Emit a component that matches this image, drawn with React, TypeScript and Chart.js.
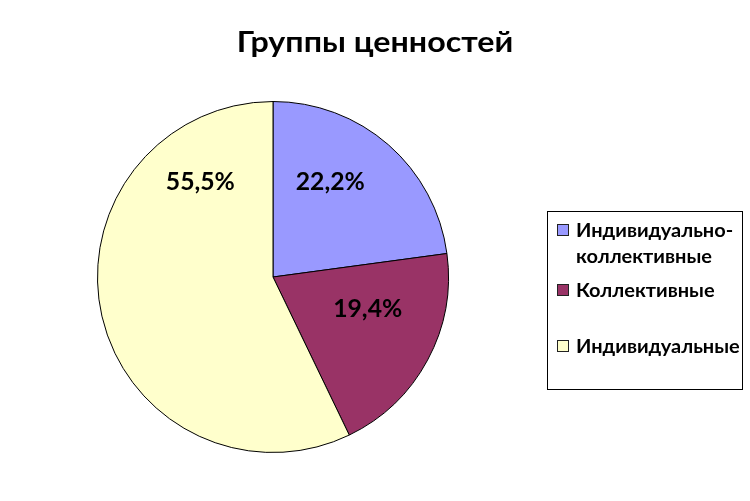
import React, { useEffect, useRef } from "react";
import { Chart, registerables } from "chart.js";

Chart.register(...registerables);

const title = "Группы ценностей";
const categories = ["Индивидуально-коллективные", "Коллективные", "Индивидуальные"];
const legendLines = [["Индивидуально-", "коллективные"], ["Коллективные"], ["Индивидуальные"]];
const values = [22.2, 19.4, 55.5];
const valueLabels = ["22,2%", "19,4%", "55,5%"];
const colors = ["#9999FF", "#993366", "#FFFFCC"];
// label placement: angle (deg clockwise from top) and fraction of radius
const labelAngles = [31.2, 108.8, 322.5];
const labelRadii = [0.63, 0.57, 0.68];

const FONT = "Lato, 'DejaVu Sans', sans-serif";

function drawText(ctx: CanvasRenderingContext2D, t: string, x: number, y: number, sx: number) {
  ctx.save();
  ctx.translate(x, y);
  ctx.scale(sx, 1);
  ctx.fillText(t, 0, 0);
  ctx.restore();
}

const overlay = {
  id: "overlay",
  afterDraw(chart: any) {
    const ctx = chart.ctx as CanvasRenderingContext2D;
    const meta = chart.getDatasetMeta(0);
    const arc0 = meta.data[0];
    const cx = arc0.x, cy = arc0.y, r = arc0.outerRadius;
    ctx.save();
    // title
    ctx.fillStyle = "#000";
    ctx.font = `bold 29px ${FONT}`;
    ctx.textAlign = "center";
    ctx.textBaseline = "middle";
    drawText(ctx, title, 375, 43, 1.11);
    // value labels
    ctx.font = `bold 24px ${FONT}`;
    valueLabels.forEach((t, i) => {
      const a = (labelAngles[i] * Math.PI) / 180;
      const x = cx + Math.sin(a) * r * labelRadii[i];
      const y = cy - Math.cos(a) * r * labelRadii[i];
      drawText(ctx, t, x, y, 1.03);
    });
    // legend box
    ctx.strokeStyle = "#000";
    ctx.lineWidth = 1;
    ctx.fillStyle = "#fff";
    ctx.fillRect(547.5, 211.5, 195, 178);
    ctx.strokeRect(547.5, 211.5, 195, 178);
    const itemY = [231, 291, 347];
    ctx.font = `bold 18px ${FONT}`;
    ctx.textAlign = "left";
    legendLines.forEach((lines, i) => {
      ctx.fillStyle = colors[i];
      ctx.fillRect(557.5, itemY[i] - 6.5, 11, 11);
      ctx.strokeStyle = "#222";
      ctx.strokeRect(557.5, itemY[i] - 6.5, 11, 11);
      ctx.fillStyle = "#000";
      lines.forEach((l, j) => {
        drawText(ctx, l, 576, itemY[i] + j * 26, 1.11);
      });
    });
    ctx.restore();
  },
};

export default function App() {
  const ref = useRef<HTMLCanvasElement>(null);
  useEffect(() => {
    const chart = new Chart(ref.current!, {
      type: "pie",
      data: {
        labels: categories,
        datasets: [
          {
            data: values,
            backgroundColor: colors,
            borderColor: "#000",
            borderWidth: 1,
          },
        ],
      },
      options: {
        animation: false,
        responsive: false,
        layout: { padding: { left: 97, right: 301, top: 101, bottom: 48 } },
        plugins: {
          legend: { display: false },
          title: { display: false },
          tooltip: { enabled: false },
        },
      },
      plugins: [overlay],
    });
    return () => chart.destroy();
  }, []);
  return (
    <div style={{ position: "fixed", left: 0, top: 0, width: 750, height: 501, background: "#fff" }}>
      <canvas ref={ref} width={750} height={501} style={{ width: 750, height: 501 }} />
    </div>
  );
}
